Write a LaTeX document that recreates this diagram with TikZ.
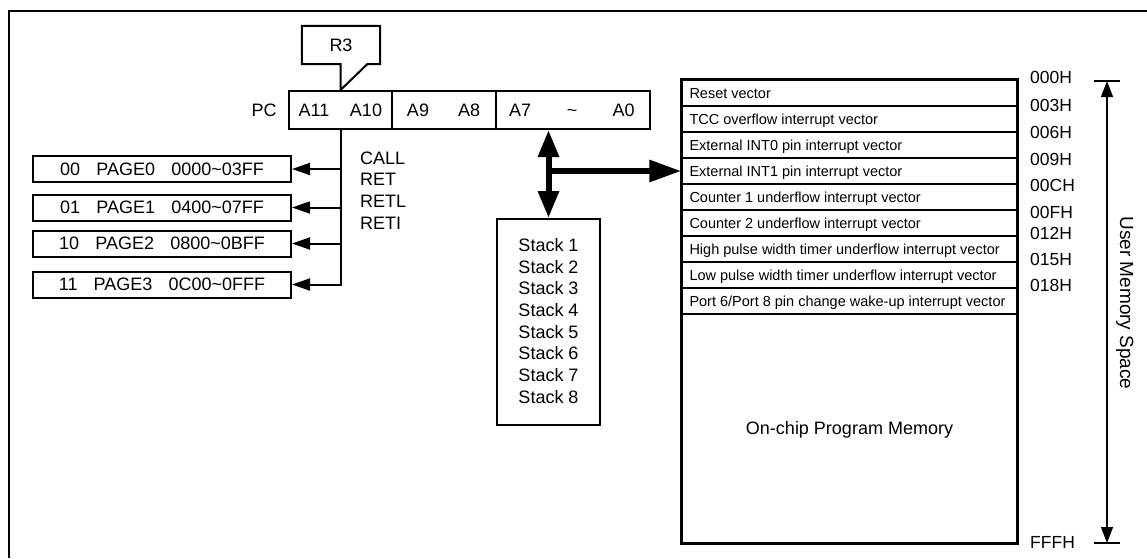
\documentclass[tikz,border=0pt]{standalone}
\usepackage{fontspec}
\setmainfont{Liberation Sans}
\usetikzlibrary{arrows.meta}

\tikzset{
  big/.style={font=\fontsize{18}{21.6}\selectfont, inner sep=0pt, text height=12.9pt, text depth=0pt},
  vec/.style={font=\fontsize{14.5}{17}\selectfont, inner sep=0pt, text height=10.4pt, text depth=0pt, anchor=west},
  addr/.style={font=\fontsize{17.5}{20}\selectfont, inner sep=0pt, text height=12.5pt, text depth=0pt, anchor=west},
  box/.style={draw, line width=2pt, inner sep=0pt},
  cell/.style={draw, line width=1.4pt, inner sep=0pt, minimum width=335pt, minimum height=26pt},
  link/.style={line width=2pt, -{Triangle[length=18pt 0, width=12pt 0]}},
  bus/.style={line width=6pt, {Triangle[length=27pt 0, width=20pt 0]}-{Triangle[length=27pt 0, width=20pt 0]}},
  feed/.style={line width=6pt, -{Triangle[length=32pt 0, width=21pt 0]}},
  span/.style={line width=1.3pt, {Triangle[length=16pt 0, width=12pt 0]}-{Triangle[length=16pt 0, width=12pt 0]}},
}

\begin{document}
\begin{tikzpicture}[x=1pt,y=-1pt]
\useasboundingbox (0,0) rectangle (1147,558);
\fill[white] (0,0) rectangle (1147,558);
% frame (top and left edges)
\draw[line width=2.3pt] (9.2,558) -- (9.2,11.2) -- (1147,11.2);

% program counter
\node[box, minimum width=103pt, minimum height=38pt] (pcA) at (340.5,110) {};
\node[box, minimum width=104pt, minimum height=38pt] (pcB) at (444,110) {};
\node[box, minimum width=154pt, minimum height=38pt] (pcC) at (573,110) {};
\node[big] (pc)  at (264,110) {PC};
\node[big] (a11) at (314,110) {A11};
\node[big] (a10) at (366,110) {A10};
\node[big] (a9)  at (418,110) {A9};
\node[big] (a8)  at (469,110) {A8};
\node[big] (a7)  at (520,110) {A7};
\node[big] (til) at (572,110) {\textasciitilde};
\node[big] (a0)  at (623.5,110) {A0};

% R3 callout
\node[big, minimum width=78pt, minimum height=38pt] (r3) at (341,45) {R3};
\draw[line width=2pt, line join=miter]
  (r3.south west) -- (r3.north west) -- (r3.north east) -- (r3.south east)
  -- ([xshift=-13pt]r3.south east) -- (pcA.north) -- (pcA.north |- r3.south) -- cycle;

% program pages
\node[box, big, minimum width=258pt, minimum height=26pt] (page0) at (162,169)
  {00\hspace{0.9em}PAGE0\hspace{0.9em}0000\textasciitilde 03FF};
\node[box, big, minimum width=258pt, minimum height=26pt] (page1) at (162,207.5)
  {01\hspace{0.9em}PAGE1\hspace{0.9em}0400\textasciitilde 07FF};
\node[box, big, minimum width=258pt, minimum height=26pt] (page2) at (162,243.5)
  {10\hspace{0.9em}PAGE2\hspace{0.9em}0800\textasciitilde 0BFF};
\node[box, big, minimum width=258pt, minimum height=26pt] (page3) at (162,284.5)
  {11\hspace{0.9em}PAGE3\hspace{0.9em}0C00\textasciitilde 0FFF};

\draw[link] (pcA.south) |- (page3.east);
\draw[link] (pcA.south |- page0.east) -- (page0.east);
\draw[link] (pcA.south |- page1.east) -- (page1.east);
\draw[link] (pcA.south |- page2.east) -- (page2.east);

\node[big, anchor=west] (call) at (360,157.7) {CALL};
\node[big, anchor=west] (ret)  at (360,179.5) {RET};
\node[big, anchor=west] (retl) at (360,201.5) {RETL};
\node[big, anchor=west] (reti) at (360,223)   {RETI};

% stack
\node[box, minimum width=103pt, minimum height=206pt] (stack) at (548.5,322) {};
\foreach \k in {1,...,8}
  \node[big] (st\k) at (548.5,{245+21.7*(\k-1)}) {Stack \k};

% program memory map
\node[cell] (row1) at (849.5,93)  {};
\node[cell] (row2) at (849.5,119) {};
\node[cell] (row3) at (849.5,145) {};
\node[cell] (row4) at (849.5,171) {};
\node[cell] (row5) at (849.5,197) {};
\node[cell] (row6) at (849.5,223) {};
\node[cell] (row7) at (849.5,249) {};
\node[cell] (row8) at (849.5,275) {};
\node[cell] (row9) at (849.5,301) {};
\node[cell, big, minimum height=229pt] (prog) at (849.5,428.5) {On-chip Program Memory};
\draw[line width=2pt] (row1.north west) rectangle (prog.south east);

\node[vec] (v1) at ([xshift=8pt]row1.west) {Reset vector};
\node[vec] (v2) at ([xshift=8pt]row2.west) {TCC overflow interrupt vector};
\node[vec] (v3) at ([xshift=8pt]row3.west) {External INT0 pin interrupt vector};
\node[vec] (v4) at ([xshift=8pt]row4.west) {External INT1 pin interrupt vector};
\node[vec] (v5) at ([xshift=8pt]row5.west) {Counter 1 underflow interrupt vector};
\node[vec] (v6) at ([xshift=8pt]row6.west) {Counter 2 underflow interrupt vector};
\node[vec] (v7) at ([xshift=8pt]row7.west) {High pulse width timer underflow interrupt vector};
\node[vec] (v8) at ([xshift=8pt]row8.west) {Low pulse width timer underflow interrupt vector};
\node[vec] (v9) at ([xshift=8pt]row9.west) {Port 6/Port 8 pin change wake-up interrupt vector};

% addresses
\node[addr] (ad0) at (1030,77)  {000H};
\node[addr] (ad1) at (1030,105) {003H};
\node[addr] (ad2) at (1030,132) {006H};
\node[addr] (ad3) at (1030,159) {009H};
\node[addr] (ad4) at (1030,185) {00CH};
\node[addr] (ad5) at (1030,212) {00FH};
\node[addr] (ad6) at (1030,233) {012H};
\node[addr] (ad7) at (1030,259) {015H};
\node[addr] (ad8) at (1030,285) {018H};
\node[addr] (adf) at (1030,542) {FFFH};

% user memory span
\coordinate (umtop) at (1107,81);
\coordinate (umbot) at (1107,543);
\draw[line width=1.3pt] ([xshift=-13pt]umtop) -- ([xshift=13pt]umtop);
\draw[line width=1.3pt] ([xshift=-13pt]umbot) -- ([xshift=13pt]umbot);
\draw[span] (umtop) -- (umbot);
\node[font=\fontsize{19}{22}\selectfont, rotate=-90, inner sep=0pt, text height=13.6pt, text depth=0pt]
  (ums) at (1127,303) {User Memory Space};

% data paths between counter, stack and memory
\draw[bus] (stack.north |- pcC.south) -- (stack.north);
\draw[feed] (stack.north |- row4.west) -- (row4.west);
\end{tikzpicture}
\end{document}
